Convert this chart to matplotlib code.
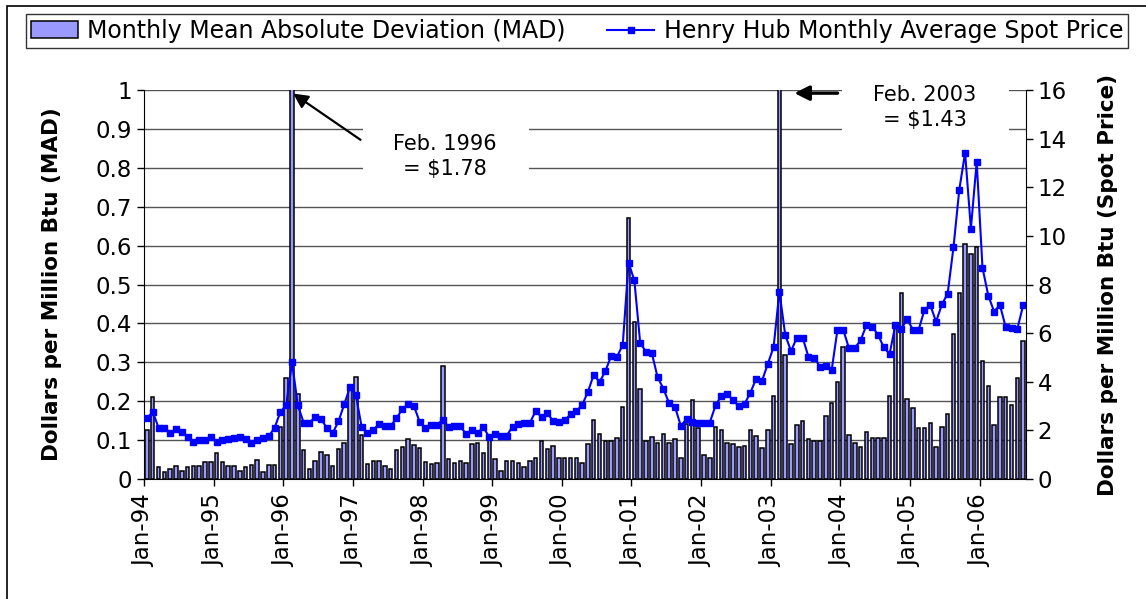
import matplotlib
matplotlib.use("Agg")
import matplotlib.pyplot as plt
import matplotlib.patches as patches
import numpy as np

# ---- data: Jan-94 .. Aug-06, monthly ----
year_labels = ["Jan-94", "Jan-95", "Jan-96", "Jan-97", "Jan-98", "Jan-99", "Jan-00",
               "Jan-01", "Jan-02", "Jan-03", "Jan-04", "Jan-05", "Jan-06"]

# Henry Hub monthly average spot price ($/MMBtu)
price_94 = [2.50, 2.76, 2.11, 2.11, 1.91, 2.05, 1.92, 1.74, 1.54, 1.60, 1.60, 1.74]
price_95 = [1.54, 1.60, 1.63, 1.70, 1.74, 1.63, 1.47, 1.60, 1.67, 1.76, 2.11, 2.76]
price_96 = [3.04, 4.80, 3.04, 2.32, 2.32, 2.54, 2.47, 2.10, 1.88, 2.37, 3.07, 3.79]
price_97 = [3.45, 2.15, 1.89, 2.03, 2.25, 2.20, 2.19, 2.49, 2.88, 3.07, 3.01, 2.35]
price_98 = [2.09, 2.23, 2.24, 2.43, 2.14, 2.17, 2.17, 1.85, 2.02, 1.91, 2.12, 1.72]
price_99 = [1.85, 1.77, 1.79, 2.15, 2.26, 2.30, 2.31, 2.80, 2.55, 2.73, 2.37, 2.36]
price_00 = [2.42, 2.66, 2.79, 3.04, 3.59, 4.29, 3.99, 4.43, 5.06, 5.02, 5.52, 8.90]
price_01 = [8.17, 5.61, 5.23, 5.19, 4.19, 3.72, 3.11, 2.97, 2.19, 2.46, 2.34, 2.30]
price_02 = [2.32, 2.32, 3.03, 3.43, 3.50, 3.26, 2.99, 3.09, 3.55, 4.13, 4.04, 4.74]
price_03 = [5.43, 7.71, 5.93, 5.26, 5.81, 5.82, 5.03, 4.99, 4.62, 4.63, 4.47, 6.13]
price_04 = [6.14, 5.37, 5.39, 5.71, 6.33, 6.27, 5.93, 5.41, 5.15, 6.35, 6.17, 6.58]
price_05 = [6.15, 6.14, 6.96, 7.16, 6.47, 7.18, 7.63, 9.53, 11.90, 13.42, 10.30, 13.05]
price_06 = [8.69, 7.54, 6.89, 7.16, 6.25, 6.21, 6.17, 7.14]

# monthly mean absolute deviation ($/MMBtu)
mad_94 = [0.125, 0.211, 0.030, 0.019, 0.025, 0.034, 0.021, 0.030, 0.034, 0.034, 0.045, 0.045]
mad_95 = [0.066, 0.045, 0.034, 0.034, 0.021, 0.030, 0.037, 0.050, 0.017, 0.037, 0.037, 0.135]
mad_96 = [0.259, 1.78, 0.219, 0.074, 0.027, 0.046, 0.069, 0.062, 0.034, 0.078, 0.093, 0.235]
mad_97 = [0.263, 0.113, 0.038, 0.046, 0.046, 0.034, 0.026, 0.074, 0.082, 0.102, 0.087, 0.081]
mad_98 = [0.043, 0.039, 0.042, 0.291, 0.051, 0.042, 0.046, 0.042, 0.089, 0.093, 0.066, 0.109]
mad_99 = [0.051, 0.021, 0.046, 0.046, 0.042, 0.030, 0.046, 0.054, 0.098, 0.077, 0.086, 0.054]
mad_00 = [0.054, 0.054, 0.054, 0.040, 0.089, 0.152, 0.116, 0.098, 0.098, 0.105, 0.186, 0.670]
mad_01 = [0.403, 0.231, 0.098, 0.109, 0.093, 0.117, 0.093, 0.102, 0.054, 0.141, 0.203, 0.130]
mad_02 = [0.062, 0.054, 0.134, 0.126, 0.093, 0.089, 0.083, 0.086, 0.126, 0.110, 0.080, 0.126]
mad_03 = [0.214, 1.43, 0.319, 0.089, 0.139, 0.150, 0.102, 0.098, 0.098, 0.162, 0.195, 0.250]
mad_04 = [0.339, 0.113, 0.093, 0.083, 0.122, 0.105, 0.105, 0.105, 0.214, 0.390, 0.479, 0.205]
mad_05 = [0.182, 0.130, 0.130, 0.143, 0.083, 0.134, 0.166, 0.372, 0.479, 0.604, 0.578, 0.597]
mad_06 = [0.303, 0.239, 0.139, 0.210, 0.210, 0.190, 0.259, 0.355]

price = (price_94 + price_95 + price_96 + price_97 + price_98 + price_99 + price_00 +
         price_01 + price_02 + price_03 + price_04 + price_05 + price_06)
mad = (mad_94 + mad_95 + mad_96 + mad_97 + mad_98 + mad_99 + mad_00 +
       mad_01 + mad_02 + mad_03 + mad_04 + mad_05 + mad_06)

n = len(price)
x = np.arange(n) + 0.5

plt.rcParams['font.family'] = ['DejaVu Sans']

fig = plt.figure(figsize=(11.46, 5.99), dpi=100)
ax = fig.add_axes([0.1257, 0.2003, 0.7696, 0.6494])
ax2 = ax.twinx()

# ---- bars (left axis) ----
ax.bar(x, mad, width=0.6, color='#9999FF', edgecolor='black', linewidth=1.1,
       zorder=2, label='Monthly Mean Absolute Deviation (MAD)')
ax.set_xlim(0, n)
ax.set_ylim(0, 1)
ax.set_yticks(np.arange(0, 1.01, 0.1))
ax.set_yticklabels(['0', '0.1', '0.2', '0.3', '0.4', '0.5', '0.6', '0.7', '0.8', '0.9', '1'])
ax.set_xticks(np.arange(0, n, 12))
ax.set_xticklabels(year_labels, rotation=90)
ax.yaxis.grid(True, color='#555555', linewidth=1.0)
ax.set_axisbelow(True)
ax.tick_params(axis='both', labelsize=16.5, direction='out', length=5, width=1)
ax.tick_params(axis='x', pad=6)
for s in ['top', 'right']:
    ax.spines[s].set_visible(False)
ax.spines['left'].set_color('black')
ax.spines['bottom'].set_color('black')
ax.set_ylabel('Dollars per Million Btu (MAD)', fontsize=15.5, fontweight='bold', labelpad=24)

# ---- spot price line (right axis) ----
ax2.plot(x, price, color='#0000FF', linewidth=1.5, marker='s', markersize=4,
         label='Henry Hub Monthly Average Spot Price')
ax2.set_ylim(0, 16)
ax2.set_yticks(np.arange(0, 17, 2))
ax2.tick_params(axis='y', labelsize=16.5, direction='out', length=5, width=1)
for s in ['top', 'left', 'bottom']:
    ax2.spines[s].set_visible(False)
ax2.spines['right'].set_color('black')
ax2.set_ylabel('Dollars per Million Btu (Spot Price)', fontsize=15.5, fontweight='bold', labelpad=22)

# ---- annotations ----
# white boxes that hide gridlines behind the callout text
ax.add_patch(patches.Rectangle((37.7, 0.755), 28.7, 0.18, facecolor='white',
                               edgecolor='none', zorder=1.5))
ax.text(51.8, 0.830, 'Feb. 1996\n= $1.78', ha='center', va='center', fontsize=15,
        linespacing=1.3, zorder=3)
ax.annotate('', xy=(25.3, 0.995), xytext=(37.7, 0.868),
            arrowprops=dict(arrowstyle='-|>', color='black', lw=1.6, mutation_scale=22),
            zorder=3)

ax.add_patch(patches.Rectangle((120.3, 0.888), 28.8, 0.15, facecolor='white',
                               edgecolor='none', zorder=1.5, clip_on=False))
ax.text(134.5, 0.955, 'Feb. 2003\n= $1.43', ha='center', va='center', fontsize=15,
        linespacing=1.3, zorder=3)
ax.annotate('', xy=(111.6, 0.992), xytext=(120.0, 0.992),
            arrowprops=dict(arrowstyle='-|>', color='black', lw=2.4, mutation_scale=22),
            zorder=3, annotation_clip=False)

# ---- legend ----
h1, l1 = ax.get_legend_handles_labels()
h2, l2 = ax2.get_legend_handles_labels()
leg = fig.legend(h1 + h2, l1 + l2, loc='center',
                 bbox_to_anchor=(26 / 1146, 1 - 51 / 599, 1102 / 1146, 40 / 599),
                 mode='expand', ncol=2, fontsize=17, frameon=True, fancybox=False,
                 edgecolor='black', handlelength=2.0, handleheight=0.7,
                 handletextpad=0.4, columnspacing=1.0, borderpad=0.2, borderaxespad=0)
leg.get_frame().set_linewidth(1.0)

# outer chart-area border (top and left edges visible)
fig.add_artist(patches.Rectangle((7 / 1146, -0.05), 1.1, 0.99 + 0.05,
                                 transform=fig.transFigure, fill=False,
                                 edgecolor='black', linewidth=1.2))

fig.savefig('out.png', dpi=100)
